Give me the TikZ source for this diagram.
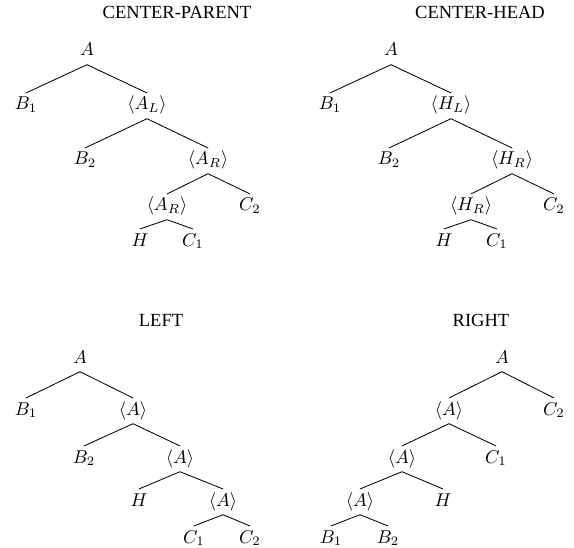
\documentclass[tikz,border=0pt]{standalone}
\usepackage{fontspec}
\newfontfamily\titlefont{Liberation Serif}

\begin{document}
\begin{tikzpicture}[x=0.54pt, y=-0.54pt, line cap=round, line join=round,
    edge/.style={line width=0.45pt},
    tnode/.style={anchor=base, inner sep=2pt, text height=7pt, text depth=2.5pt},
    ttl/.style={anchor=base, font=\titlefont}]
  \useasboundingbox (0,0) rectangle (574,548);
  % center-parent
  \node[ttl] (pT) at (177,18.5) {CENTER-PARENT};
  \node[tnode] (pA) at (87,56) {$A$};
  \node[tnode] (pB1) at (26,110) {$B_1$};
  \node[tnode] (pAL) at (147,110) {$\langle A_L\rangle$};
  \node[tnode] (pB2) at (85,165) {$B_2$};
  \node[tnode] (pAR) at (208,165) {$\langle A_R\rangle$};
  \node[tnode] (pARb) at (167,211) {$\langle A_R\rangle$};
  \node[tnode] (pC2) at (250,211) {$C_2$};
  \node[tnode] (pH) at (140,246) {$H$};
  \node[tnode] (pC1) at (193,246) {$C_1$};
  \draw[edge] (pB1.north) -- (pA.south) -- (pAL.north);
  \draw[edge] (pB2.north) -- (pAL.south) -- (pAR.north);
  \draw[edge] (pARb.north) -- (pAR.south) -- (pC2.north);
  \draw[edge] (pH.north) -- (pARb.south) -- (pC1.north);
  % center-head
  \node[ttl] (hT) at (480,18.5) {CENTER-HEAD};
  \node[tnode] (hA) at (391,56) {$A$};
  \node[tnode] (hB1) at (330,110) {$B_1$};
  \node[tnode] (hHL) at (451,110) {$\langle H_L\rangle$};
  \node[tnode] (hB2) at (389,165) {$B_2$};
  \node[tnode] (hHR) at (512,165) {$\langle H_R\rangle$};
  \node[tnode] (hHRb) at (471,211) {$\langle H_R\rangle$};
  \node[tnode] (hC2) at (554,211) {$C_2$};
  \node[tnode] (hH) at (444,246) {$H$};
  \node[tnode] (hC1) at (497,246) {$C_1$};
  \draw[edge] (hB1.north) -- (hA.south) -- (hHL.north);
  \draw[edge] (hB2.north) -- (hHL.south) -- (hHR.north);
  \draw[edge] (hHRb.north) -- (hHR.south) -- (hC2.north);
  \draw[edge] (hH.north) -- (hHRb.south) -- (hC1.north);
  % left
  \node[ttl] (lT) at (161,327) {LEFT};
  \node[tnode] (lA) at (80,363) {$A$};
  \node[tnode] (lB1) at (26,415) {$B_1$};
  \node[tnode] (lA1) at (133,415) {$\langle A\rangle$};
  \node[tnode] (lB2) at (84,463) {$B_2$};
  \node[tnode] (lA2) at (180,463) {$\langle A\rangle$};
  \node[tnode] (lH) at (139,506) {$H$};
  \node[tnode] (lA3) at (223,506) {$\langle A\rangle$};
  \node[tnode] (lC1) at (194,543) {$C_1$};
  \node[tnode] (lC2) at (250,543) {$C_2$};
  \draw[edge] (lB1.north) -- (lA.south) -- (lA1.north);
  \draw[edge] (lB2.north) -- (lA1.south) -- (lA2.north);
  \draw[edge] (lH.north) -- (lA2.south) -- (lA3.north);
  \draw[edge] (lC1.north) -- (lA3.south) -- (lC2.north);
  % right
  \node[ttl] (rT) at (481,327) {RIGHT};
  \node[tnode] (rA) at (502,363) {$A$};
  \node[tnode] (rA1) at (449,415) {$\langle A\rangle$};
  \node[tnode] (rC2) at (554,415) {$C_2$};
  \node[tnode] (rA2) at (402,463) {$\langle A\rangle$};
  \node[tnode] (rC1) at (496,463) {$C_1$};
  \node[tnode] (rA3) at (360,506) {$\langle A\rangle$};
  \node[tnode] (rH) at (443,506) {$H$};
  \node[tnode] (rB1) at (331,543) {$B_1$};
  \node[tnode] (rB2) at (388,543) {$B_2$};
  \draw[edge] (rA1.north) -- (rA.south) -- (rC2.north);
  \draw[edge] (rA2.north) -- (rA1.south) -- (rC1.north);
  \draw[edge] (rA3.north) -- (rA2.south) -- (rH.north);
  \draw[edge] (rB1.north) -- (rA3.south) -- (rB2.north);
\end{tikzpicture}
\end{document}
